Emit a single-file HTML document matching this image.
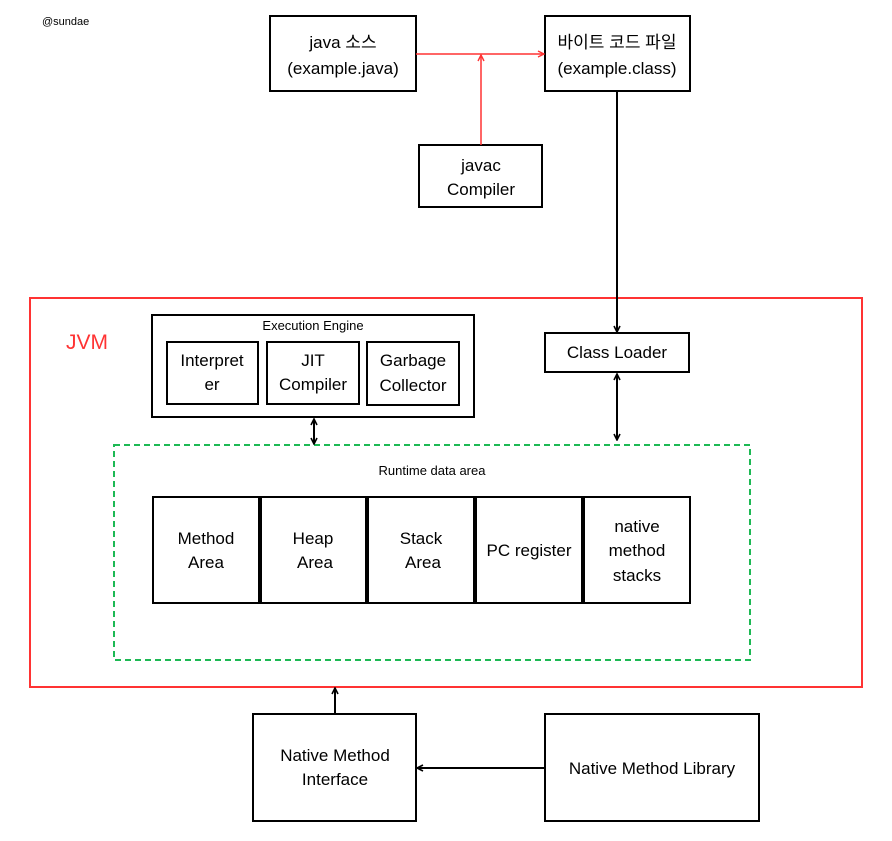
<!DOCTYPE html>
<html><head><meta charset="utf-8"><style>
body{margin:0;background:#fff}
svg text{font-family:"Liberation Sans","Noto Sans CJK KR",sans-serif;fill:#000}
</style></head><body>
<svg width="892" height="836" viewBox="0 0 892 836" xmlns="http://www.w3.org/2000/svg">
<defs>
<marker id="ab" markerWidth="8" markerHeight="8" refX="7" refY="4" orient="auto" markerUnits="userSpaceOnUse"><path d="M1,1 L7,4 L1,7" fill="none" stroke="#000" stroke-width="1.6"/></marker>
<marker id="ar" markerWidth="8" markerHeight="8" refX="7" refY="4" orient="auto" markerUnits="userSpaceOnUse"><path d="M1,1 L7,4 L1,7" fill="none" stroke="#f33" stroke-width="1.4"/></marker>
<marker id="as" markerWidth="8" markerHeight="8" refX="7" refY="4" orient="auto-start-reverse" markerUnits="userSpaceOnUse"><path d="M1,1 L7,4 L1,7" fill="none" stroke="#000" stroke-width="1.6"/></marker>
</defs>
<text x="42" y="25" font-size="11">@sundae</text>
<g fill="none" stroke="#000" stroke-width="2">
<rect x="270" y="16" width="146" height="75"/>
<rect x="545" y="16" width="145" height="75"/>
<rect x="419" y="145" width="123" height="62"/>
<rect x="152" y="315" width="322" height="102"/>
<rect x="167" y="342" width="91" height="62"/>
<rect x="267" y="342" width="92" height="62"/>
<rect x="367" y="342" width="92" height="63"/>
<rect x="545" y="333" width="144" height="39"/>
<rect x="153" y="497" width="106" height="106"/>
<rect x="261" y="497" width="105" height="106"/>
<rect x="368" y="497" width="106" height="106"/>
<rect x="476" y="497" width="106" height="106"/>
<rect x="584" y="497" width="106" height="106"/>
<rect x="253" y="714" width="163" height="107"/>
<rect x="545" y="714" width="214" height="107"/>
</g>
<rect x="30" y="298" width="832" height="389" fill="none" stroke="#f33" stroke-width="2"/>
<rect x="114" y="445" width="636" height="215" fill="none" stroke="#1db954" stroke-width="2" stroke-dasharray="6,4"/>
<line x1="416" y1="54" x2="544" y2="54" stroke="#f33" stroke-width="1.5" marker-end="url(#ar)"/>
<line x1="481" y1="145" x2="481" y2="55" stroke="#f33" stroke-width="1.5" marker-end="url(#ar)"/>
<line x1="617" y1="91" x2="617" y2="332" stroke="#000" stroke-width="2" marker-end="url(#ab)"/>
<line x1="314" y1="419" x2="314" y2="444" stroke="#000" stroke-width="2" marker-start="url(#as)" marker-end="url(#as)"/>
<line x1="617" y1="374" x2="617" y2="440" stroke="#000" stroke-width="2" marker-start="url(#as)" marker-end="url(#as)"/>
<line x1="335" y1="714" x2="335" y2="688" stroke="#000" stroke-width="2" marker-end="url(#ab)"/>
<line x1="545" y1="768" x2="417" y2="768" stroke="#000" stroke-width="2" marker-end="url(#ab)"/>
<g font-size="17" text-anchor="middle">
<text x="343" y="48">java 소스</text><text x="343" y="74">(example.java)</text>
<text x="617" y="48">바이트 코드 파일</text><text x="617" y="74">(example.class)</text>
<text x="481" y="171">javac</text><text x="481" y="195">Compiler</text>
<text x="212" y="366">Interpret</text><text x="212" y="390">er</text>
<text x="313" y="366">JIT</text><text x="313" y="390">Compiler</text>
<text x="413" y="366">Garbage</text><text x="413" y="391">Collector</text>
<text x="617" y="358">Class Loader</text>
<text x="206" y="544">Method</text><text x="206" y="568">Area</text>
<text x="313" y="544">Heap</text><text x="315" y="568">Area</text>
<text x="421" y="544">Stack</text><text x="423" y="568">Area</text>
<text x="529" y="556">PC register</text>
<text x="637" y="532">native</text><text x="637" y="556">method</text><text x="637" y="581">stacks</text>
<text x="335" y="761">Native Method</text><text x="335" y="785">Interface</text>
<text x="652" y="774">Native Method Library</text>
</g>
<text x="313" y="330" font-size="13" text-anchor="middle">Execution Engine</text>
<text x="432" y="475" font-size="13" text-anchor="middle">Runtime data area</text>
<text x="66" y="349" font-size="21" style="fill:#f33">JVM</text>
</svg>
</body></html>
